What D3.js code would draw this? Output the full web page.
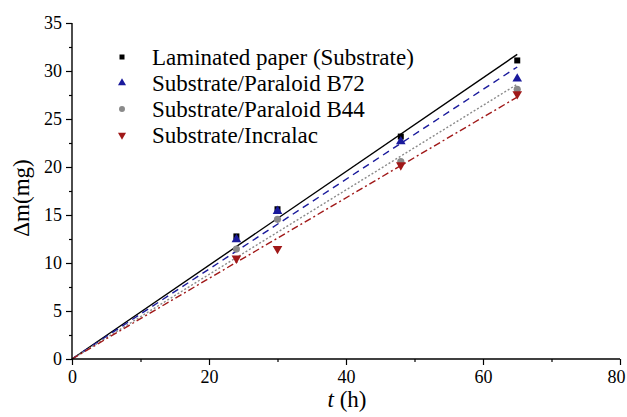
<!DOCTYPE html>
<html>
<head>
<meta charset="utf-8">
<script src="https://cdn.jsdelivr.net/npm/d3@7"></script>
<style>
  body { margin: 0; background: #fff; }
</style>
</head>
<body>
<svg id="chart" width="627" height="417"></svg>
<script>
// Measurement times (h)
const times = [24, 30, 48, 65];

// Mass gain (mg)
const substrate = [12.77, 15.6, 23.17, 31.1];
const paraloidB72 = [12.46, 15.4, 22.65, 29.2];
const paraloidB44 = [11.45, 14.55, 20.56, 28.1];
const incralac = [10.48, 11.48, 20.2, 27.6];

const seriesNames = [
    'Laminated paper (Substrate)',
    'Substrate/Paraloid B72',
    'Substrate/Paraloid B44',
    'Substrate/Incralac'
];

const xTicks = [0, 20, 40, 60, 80];
const yTicks = [0, 5, 10, 15, 20, 25, 30, 35];

const FONT = '"Liberation Serif"';

const series = [
    { name: seriesNames[0], values: substrate, color: '#000000', dash: null, symbol: d3.symbolSquare, rot: 0 },
    { name: seriesNames[1], values: paraloidB72, color: '#1a1a9c', dash: '7,5', symbol: d3.symbolTriangle, rot: 0 },
    { name: seriesNames[2], values: paraloidB44, color: '#8a8a8a', dash: '2,2', symbol: d3.symbolCircle, rot: 0 },
    { name: seriesNames[3], values: incralac, color: '#a01818', dash: '7,3,2,3', symbol: d3.symbolTriangle, rot: 180 }
];

const svg = d3.select('#chart');
const margin = { left: 72, right: 7, top: 23, bottom: 58 };
const width = 627 - margin.left - margin.right;
const height = 417 - margin.top - margin.bottom;

const x = d3.scaleLinear().domain([0, 80]).range([margin.left, margin.left + width]);
const y = d3.scaleLinear().domain([0, 35]).range([margin.top + height, margin.top]);

// Least squares fit through the origin
function slopeOf(values) {
    const sxy = d3.sum(values, (v, i) => v * times[i]);
    const sxx = d3.sum(times, t => t * t);
    return sxy / sxx;
}

// Fit lines
series.forEach(s => {
    const k = slopeOf(s.values);
    const pts = [0, times[times.length - 1]].map(t => [t, k * t]);
    svg.append('path')
        .attr('d', d3.line().x(d => x(d[0])).y(d => y(d[1]))(pts))
        .attr('fill', 'none')
        .attr('stroke', s.color)
        .attr('stroke-width', 1.4)
        .attr('stroke-dasharray', s.dash);
});

// Data points
series.forEach(s => {
    svg.append('g')
        .selectAll('path')
        .data(s.values)
        .enter().append('path')
        .attr('d', d3.symbol().type(s.symbol).size(s.symbol === d3.symbolSquare ? 36 : 40))
        .attr('transform', (d, i) => `translate(${x(times[i])},${y(d)}) rotate(${s.rot})`)
        .attr('fill', s.color);
});

// Axes
const xAxis = svg.append('g')
    .attr('transform', `translate(0,${y(0)})`)
    .call(d3.axisBottom(x).tickValues(xTicks).tickSize(6).tickPadding(5).tickFormat(d3.format('d')));
xAxis.selectAll('.tick').filter(d => d === 80).select('text').attr('dx', -4);
svg.append('g')
    .attr('transform', `translate(0,${y(0)})`)
    .call(d3.axisBottom(x).tickValues([10, 30, 50, 70]).tickSize(3).tickFormat(''))
    .select('.domain').remove();

const yAxis = svg.append('g')
    .attr('transform', `translate(${x(0)},0)`)
    .call(d3.axisLeft(y).tickValues(yTicks).tickSize(6).tickPadding(4).tickFormat(d3.format('d')));
svg.append('g')
    .attr('transform', `translate(${x(0)},0)`)
    .call(d3.axisLeft(y).tickValues(d3.range(2.5, 35, 5)).tickSize(3).tickFormat(''))
    .select('.domain').remove();

svg.selectAll('.domain').attr('stroke-width', 1.4);
svg.selectAll('.tick line').attr('stroke-width', 1.2);
svg.selectAll('.tick text')
    .style('font-family', FONT)
    .attr('font-size', 18)
    .attr('fill', '#000');

// Plain domain lines without end ticks
xAxis.select('.domain').attr('d', `M${x(0)},0H${x(80)}`);
yAxis.select('.domain').attr('d', `M0,${y(0)}V${y(35)}`);

// Axis titles
svg.append('text')
    .attr('transform', `translate(29,${(y(0) + y(35)) / 2 + 7}) rotate(-90)`)
    .attr('text-anchor', 'middle')
    .style('font-family', FONT)
    .attr('font-size', 23)
    .text('\u0394m(mg)');

const xTitle = svg.append('text')
    .attr('x', 347)
    .attr('y', 407)
    .attr('text-anchor', 'middle')
    .style('font-family', FONT)
    .attr('font-size', 23);
xTitle.append('tspan').attr('font-style', 'italic').text('t');
xTitle.append('tspan').text(' (h)');

// Legend
const legend = svg.append('g').attr('transform', 'translate(122,57)');
series.forEach((s, i) => {
    const row = legend.append('g').attr('transform', `translate(0,${i * 26})`);
    row.append('path')
        .attr('d', d3.symbol().type(s.symbol).size(s.symbol === d3.symbolSquare ? 25 : 28))
        .attr('transform', `rotate(${s.rot})`)
        .attr('fill', s.color);
    row.append('text')
        .attr('x', 30)
        .attr('y', 8)
        .style('font-family', FONT)
        .attr('font-size', 23)
        .text(s.name);
});
</script>
</body>
</html>
